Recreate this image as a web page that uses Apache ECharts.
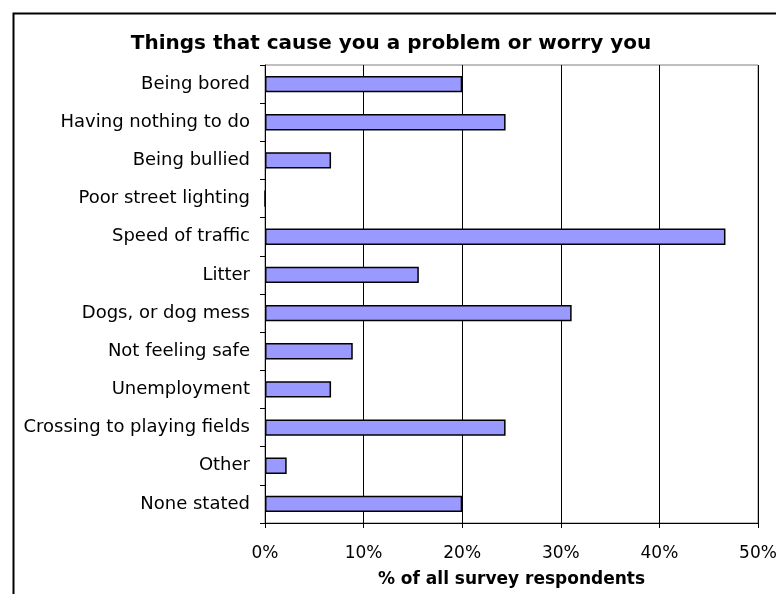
<!DOCTYPE html>
<html>
<head>
<meta charset="utf-8">
<script src="https://cdn.jsdelivr.net/npm/echarts@6/dist/echarts.min.js"></script>
<style>
html,body{margin:0;padding:0;background:#fff;}
#chart{width:776px;height:594px;}
</style>
</head>
<body>
<div id="chart"></div>
<script>
const categories = ["Being bored","Having nothing to do","Being bullied","Poor street lighting","Speed of traffic","Litter","Dogs, or dog mess","Not feeling safe","Unemployment","Crossing to playing fields","Other","None stated"];
const values = [20.0, 24.4, 6.7, 0, 46.7, 15.6, 31.1, 8.9, 6.7, 24.4, 2.2, 20.0];
const xTicks = [0, 10, 20, 30, 40, 50];
const titleText = "Things that cause you a problem or worry you";
const xAxisName = "% of all survey respondents";

const chart = echarts.init(document.getElementById('chart'), null, {renderer: 'canvas'});
const FONT = '"DejaVu Sans", "Liberation Sans", sans-serif';
chart.setOption({
  animation: false,
  backgroundColor: '#fff',
  title: {
    text: titleText,
    left: 386, top: 29, textAlign: 'center',
    textStyle: {fontFamily: FONT, fontSize: 20, fontWeight: 'bold', color: '#000'}
  },
  graphic: [{
    type: 'rect', left: 11, top: 11, silent: true,
    shape: {width: 800, height: 700},
    style: {fill: 'none', stroke: '#000', lineWidth: 2}
  }],
  grid: {left: 265, right: 18, top: 65, bottom: 71, containLabel: false, outerBoundsMode: 'none', show: true, borderColor: '#808080', borderWidth: 1, backgroundColor: 'transparent'},
  xAxis: {
    type: 'value', min: xTicks[0], max: xTicks[xTicks.length-1], interval: 10,
    axisLine: {show: true, lineStyle: {color: '#000', width: 1}},
    axisTick: {show: true, length: 5, lineStyle: {color: '#000'}},
    splitLine: {show: true, lineStyle: {color: '#000', width: 1}},
    axisLabel: {formatter: '{value}%', fontFamily: FONT, fontSize: 17, color: '#000', margin: 22, hideOverlap: false},
    name: xAxisName, nameLocation: 'middle', nameGap: 48,
    nameTextStyle: {fontFamily: FONT, fontSize: 17, fontWeight: 'bold', color: '#000'}
  },
  yAxis: {
    type: 'category', data: categories, inverse: true,
    axisLine: {show: true, lineStyle: {color: '#000', width: 1}},
    axisTick: {show: true, length: 5, lineStyle: {color: '#000'}},
    splitLine: {show: false},
    axisLabel: {fontFamily: FONT, fontSize: 18, color: '#000', margin: 15}
  },
  series: [{
    type: 'bar', data: values, barWidth: '43%',
    itemStyle: {color: '#9999FF', borderColor: '#000', borderWidth: 1.5},
    silent: true
  }]
});
</script>
</body>
</html>
